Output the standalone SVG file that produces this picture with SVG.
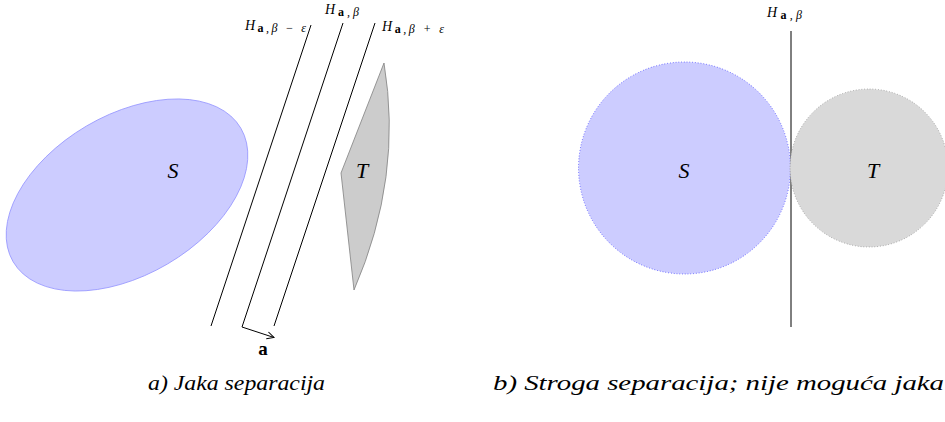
<svg xmlns="http://www.w3.org/2000/svg" width="945" height="422" viewBox="0 0 945 422">
<style>
text{font-family:"Liberation Serif","DejaVu Serif",serif;fill:#000}
.lbl{font-style:italic;font-size:22px}
.hl{font-size:14px;font-style:italic;fill:#000}
.sub{font-size:12px;fill:#000}
.bf{font-weight:bold;font-style:normal}
.ln{stroke:#000;stroke-width:1;fill:none}
.cap{font-style:italic;font-size:20px}
</style>
<defs>
<marker id="arr" markerWidth="10" markerHeight="10" refX="8" refY="5" orient="auto" markerUnits="userSpaceOnUse">
<path d="M1,1.5 L8,5 L1,8.5" fill="none" stroke="#000" stroke-width="1"/>
</marker>
</defs>
<g id="S1">
<ellipse cx="127" cy="195" rx="132" ry="80" transform="rotate(-30.4 127 195)" fill="#ccccff" stroke="#9999ff" stroke-width="0.8"/>
<text class="lbl" x="173" y="178" text-anchor="middle">S</text>
</g>
<g id="T1">
<path d="M384,63 Q403,177 354,290 L341,173 Z" fill="#cccccc" stroke="#808080" stroke-width="0.8"/>
<text class="lbl" x="362" y="178" text-anchor="middle">T</text>
</g>
<g id="connectors">
<line class="ln" x1="311" y1="25" x2="211" y2="326"/>
<line class="ln" x1="343" y1="23" x2="242" y2="327"/>
<line class="ln" x1="375" y1="23" x2="274" y2="326"/>
<line class="ln" x1="242" y1="327" x2="274" y2="337.5" marker-end="url(#arr)"/>
<line class="ln" x1="791" y1="31" x2="791" y2="327"/>
</g>
<g id="labels1">
<text class="hl" x="245" y="30" textLength="61" lengthAdjust="spacing">H<tspan class="sub bf" dy="2">a</tspan><tspan class="sub">,β − ε</tspan></text>
<text class="hl" x="325" y="14" textLength="34" lengthAdjust="spacing">H<tspan class="sub bf" dy="2">a</tspan><tspan class="sub">,β</tspan></text>
<text class="hl" x="382" y="31" textLength="62" lengthAdjust="spacing">H<tspan class="sub bf" dy="2">a</tspan><tspan class="sub">,β + ε</tspan></text>
<text x="263" y="355" font-size="19" font-weight="bold" text-anchor="middle">a</text>
</g>
<g id="S2">
<circle cx="684.5" cy="168" r="106" fill="#ccccff" stroke="#3333ff" stroke-width="0.8" stroke-dasharray="0.8 2"/>
<text class="lbl" x="684" y="178" text-anchor="middle">S</text>
</g>
<g id="T2">
<circle cx="869" cy="168" r="79" fill="#d9d9d9" stroke="#888888" stroke-width="0.8" stroke-dasharray="0.8 2"/>
<text class="lbl" x="873" y="178" text-anchor="middle">T</text>
</g>
<g id="labels2">
<text class="hl" x="767" y="17" textLength="35" lengthAdjust="spacing">H<tspan class="sub bf" dy="2">a</tspan><tspan class="sub">,β</tspan></text>
</g>
<g id="captions">
<text class="cap" x="148" y="390" textLength="177" lengthAdjust="spacingAndGlyphs">a) Jaka separacija</text>
<text class="cap" x="493" y="390" textLength="451" lengthAdjust="spacingAndGlyphs">b) Stroga separacija; nije moguća jaka</text>
</g>
</svg>
